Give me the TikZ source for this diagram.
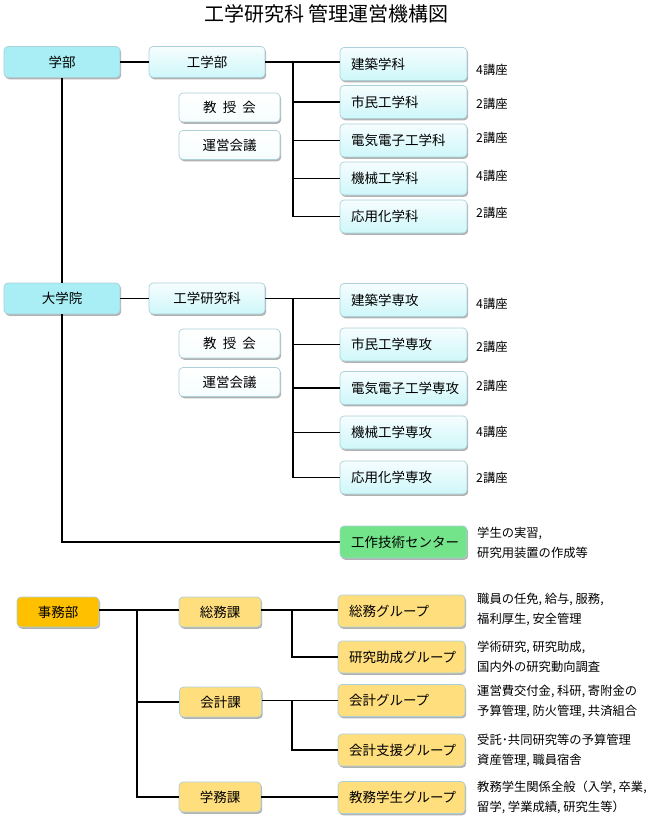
\documentclass[tikz,border=0pt]{standalone}
\usepackage{fontspec}
\setmainfont{Noto Sans CJK JP}
\usetikzlibrary{shadows}
\definecolor{cyanA}{RGB}{168,238,244}
\definecolor{cyanTop}{RGB}{246,253,254}
\definecolor{cyanBot}{RGB}{206,247,250}
\definecolor{bord}{RGB}{172,208,216}
\definecolor{jimu}{RGB}{255,192,0}
\definecolor{yel}{RGB}{255,222,125}
\definecolor{grn}{RGB}{116,228,138}
\tikzset{
  base/.style={draw=bord, line width=0.7pt, rounded corners=4pt, inner sep=0pt,
    font=\fontsize{13.5}{16}\selectfont,
    drop shadow={shadow xshift=1.2pt, shadow yshift=-1.8pt, opacity=0.3, fill=black}},
  cbox/.style={base, minimum width=116pt, minimum height=31pt},
  topbox/.style={cbox, fill=cyanA},
  subbox/.style={cbox, top color=cyanTop, bottom color=cyanBot},
  council/.style={base, minimum width=101pt, minimum height=29pt, top color=white, bottom color=cyanTop},
  dept/.style={base, minimum height=33pt, text width=105pt, inner xsep=11pt, align=left,
    top color=cyanTop, bottom color=cyanBot},
  centerbox/.style={base, minimum height=32pt, text width=105pt, inner xsep=11pt, align=left, fill=grn},
  jbox/.style={base, minimum width=82pt, minimum height=30pt, fill=jimu},
  kabox/.style={base, minimum width=82pt, minimum height=30pt, fill=yel},
  grp/.style={base, minimum height=32pt, text width=105pt, inner xsep=11pt, align=left, fill=yel},
  koza/.style={anchor=west, inner sep=0pt, font=\fontsize{12.3}{14}\selectfont},
  note/.style={anchor=west, inner sep=0pt, align=left, font=\fontsize{12.3}{20}\selectfont},
  ln/.style={line width=1.6pt},
  lnb/.style={line width=1.4pt},
}
\begin{document}
\begin{tikzpicture}[x=1pt,y=-1pt]
\path[use as bounding box] (0,0) rectangle (653,821);
\node (title) at (326.5,14) {\fontsize{20}{24}\selectfont 工学研究科\ 管理運営機構図};

% ---- 学部 ----
\node[topbox] (gakubu) at (62,62) {学部};
\node[subbox] (kogakubu) at (207,62) {工学部};
\node[council] (kyoju1) at (229.5,107.5) {教\ \ 授\ \ 会};
\node[council] (unei1) at (229.5,145) {運営会議};
\node[dept] (d1) at (403.5,64) {建築学科};
\node[dept] (d2) at (403.5,102) {市民工学科};
\node[dept] (d3) at (403.5,140.5) {電気電子工学科};
\node[dept] (d4) at (403.5,178.5) {機械工学科};
\node[dept] (d5) at (403.5,216.5) {応用化学科};
\node[koza] (k1) at (476,70) {4講座};
\node[koza] (k2) at (476,104) {2講座};
\node[koza] (k3) at (476,138) {2講座};
\node[koza] (k4) at (476,176) {4講座};
\node[koza] (k5) at (476,213) {2講座};
\coordinate (j1) at (293,62);
\draw[ln] (gakubu.east) -- (gakubu.east -| kogakubu.west);
\draw[ln] (kogakubu.east) -- (kogakubu.east -| d1.west);
\draw[ln] (j1) |- (d5.west);
\foreach \n in {d2,d3,d4} \draw[ln] (j1 |- \n.west) -- (\n.west);

% ---- 大学院 ----
\node[topbox] (daigakuin) at (62,298.5) {大学院};
\node[subbox] (kenkyuka) at (207,298.5) {工学研究科};
\node[council] (kyoju2) at (229.5,343.5) {教\ \ 授\ \ 会};
\node[council] (unei2) at (229.5,382) {運営会議};
\node[dept] (m1) at (403.5,300) {建築学専攻};
\node[dept] (m2) at (403.5,344.5) {市民工学専攻};
\node[dept] (m3) at (403.5,388) {電気電子工学専攻};
\node[dept] (m4) at (403.5,432.5) {機械工学専攻};
\node[dept] (m5) at (403.5,477.5) {応用化学専攻};
\node[koza] (q1) at (476,304) {4講座};
\node[koza] (q2) at (476,347) {2講座};
\node[koza] (q3) at (476,386) {2講座};
\node[koza] (q4) at (476,432) {4講座};
\node[koza] (q5) at (476,478) {2講座};
\coordinate (j2) at (293,298.5);
\draw[ln] (gakubu.south) -- (daigakuin.north);
\draw[ln] (daigakuin.east) -- (kenkyuka.west);
\draw[ln] (kenkyuka.east) -- (kenkyuka.east -| m1.west);
\draw[ln] (j2) |- (m5.west);
\foreach \n in {m2,m3,m4} \draw[ln] (j2 |- \n.west) -- (\n.west);

% ---- 工作技術センター ----
\node[centerbox] (center) at (403.5,542) {工作技術センター};
\node[note] (cnote) at (477,543) {学生の実習,\\研究用装置の作成等};
\draw[ln] (daigakuin.south) |- (center.west);

% ---- 事務部 ----
\node[jbox] (jimubu) at (58,612) {事務部};
\node[kabox] (soumuka) at (220,612) {総務課};
\node[kabox] (kaikeika) at (220.5,702) {会計課};
\node[kabox] (gakumuka) at (220,797) {学務課};
\node[grp] (g1) at (401.5,611) {総務グループ};
\node[grp] (g2) at (401.5,657) {研究助成グループ};
\node[grp] (g3) at (401.5,700.5) {会計グループ};
\node[grp] (g4) at (401.5,750) {会計支援グループ};
\node[grp] (g5) at (401.5,797.5) {教務学生グループ};
\node[note] (n1) at (477,609) {職員の任免, 給与, 服務,\\福利厚生, 安全管理};
\node[note] (n2) at (477,657) {学術研究, 研究助成,\\国内外の研究動向調査};
\node[note] (n3) at (477,701) {運営費交付金, 科研, 寄附金の\\予算管理, 防火管理, 共済組合};
\node[note] (n4) at (477,750) {受託･共同研究等の予算管理\\資産管理, 職員宿舎};
\node[note] (n5) at (477,797.5) {教務学生関係全般（入学, 卒業,\\留学, 学業成績, 研究生等）};
\coordinate (t0) at (137,610);
\draw[lnb] (jimubu.east |- t0) -- (soumuka.west |- t0);
\draw[lnb] (t0) |- (gakumuka.west);
\draw[lnb] (t0 |- kaikeika.west) -- (kaikeika.west);
\coordinate (s1) at (292,610);
\draw[lnb] (soumuka.east |- s1) -- (g1.west |- s1);
\draw[lnb] (s1) |- (g2.west);
\coordinate (s2) at (292,700.5);
\draw[lnb] (kaikeika.east |- s2) -- (g3.west);
\draw[lnb] (s2) |- (g4.west);
\draw[lnb] (gakumuka.east) -- (gakumuka.east -| g5.west);
\end{tikzpicture}
\end{document}
